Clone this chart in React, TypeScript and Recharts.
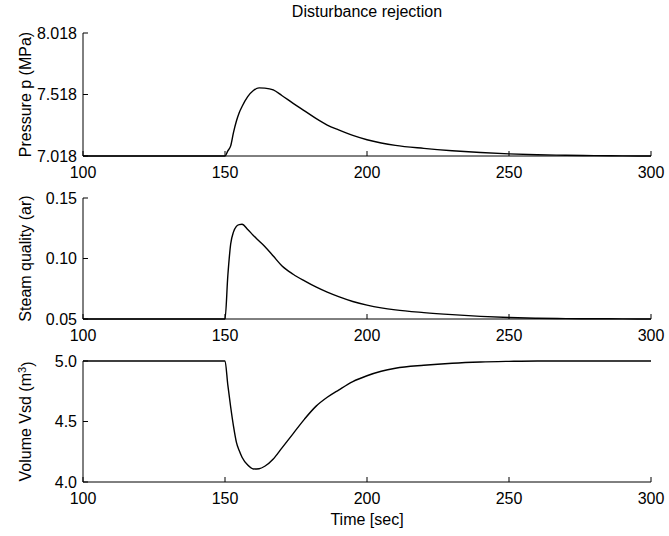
import React from 'react';
import { LineChart, Line, XAxis, YAxis, Label } from 'recharts';

// sampled response after the disturbance at t = 150 s
const time = [100, 150, 151, 152, 153, 154, 155, 156, 158, 160, 162, 164, 167, 170, 174, 178, 182, 186, 190, 195, 200, 205, 210, 220, 230, 240, 250, 260, 270, 280, 290, 300];
const pressure = [7.018, 7.018, 7.06, 7.1, 7.21, 7.3, 7.37, 7.42, 7.5, 7.55, 7.572, 7.57, 7.555, 7.51, 7.446, 7.385, 7.324, 7.27, 7.23, 7.185, 7.15, 7.124, 7.104, 7.08, 7.061, 7.046, 7.035, 7.028, 7.024, 7.021, 7.019, 7.018];
const quality = [0.05, 0.05, 0.086, 0.112, 0.122, 0.1265, 0.128, 0.1283, 0.124, 0.119, 0.1145, 0.11, 0.102, 0.094, 0.087, 0.0815, 0.0765, 0.0722, 0.0685, 0.0645, 0.0615, 0.0592, 0.0575, 0.0553, 0.0536, 0.0522, 0.0512, 0.0506, 0.0503, 0.0502, 0.0501, 0.05];
const volume = [5.0, 5.0, 4.8, 4.62, 4.46, 4.33, 4.26, 4.205, 4.14, 4.108, 4.11, 4.13, 4.19, 4.28, 4.4, 4.52, 4.625, 4.7, 4.76, 4.83, 4.878, 4.915, 4.94, 4.965, 4.982, 4.992, 4.997, 5.0, 5.0, 5.0, 5.0, 5.0];

const timeTicks = [100, 150, 200, 250, 300];
const pressureTicks = [7.018, 7.518, 8.018];
const qualityTicks = [0.05, 0.1, 0.15];
const volumeTicks = [4.0, 4.5, 5.0];

const data = time.map((t, i) => ({ t, p: pressure[i], q: quality[i], v: volume[i] }));

const FONT = '"Liberation Sans", Arial, sans-serif';
const tickStyle = { fill: '#000', fontSize: 16, fontFamily: FONT };
const axisLine = { stroke: '#000', strokeWidth: 1 };

function yLabel(text: string, sup?: string) {
  return (props: any) => {
    const vb = props.viewBox;
    const cx = vb.x + 25;
    const cy = vb.y + vb.height / 2;
    return (
      <text
        x={cx}
        y={cy}
        transform={`rotate(-90, ${cx}, ${cy})`}
        textAnchor="middle"
        dy="0.355em"
        fill="#000"
        fontSize={16}
        fontFamily={FONT}
      >
        {text}
        {sup && (
          <>
            <tspan dy="-0.45em" fontSize={11}>{sup}</tspan>
            <tspan dy="0.45em">)</tspan>
          </>
        )}
      </text>
    );
  };
}

interface PanelProps {
  top: number;
  height: number;
  bottom: number;
  dataKey: string;
  ticks: number[];
  digits: number;
  label: (props: any) => React.ReactElement;
  xTitle?: string;
}

function Panel({ top, height, bottom, dataKey, ticks, digits, label, xTitle }: PanelProps) {
  const domain = [ticks[0], ticks[ticks.length - 1]];
  return (
    <div style={{ position: 'absolute', left: 0, top }}>
      <LineChart width={669} height={height} data={data} margin={{ top: 33, right: 18, bottom, left: 0 }}>
        <XAxis
          dataKey="t"
          type="number"
          domain={[100, 300]}
          ticks={timeTicks}
          height={30}
          axisLine={axisLine}
          tickLine={{ stroke: '#000' }}
          tickSize={-5}
          tickMargin={16}
          tick={tickStyle}
        >
          {xTitle && (
            <Label value={xTitle} position="bottom" offset={2} fill="#000" fontSize={16} fontFamily={FONT} />
          )}
        </XAxis>
        <XAxis
          xAxisId="top"
          orientation="top"
          type="number"
          domain={[100, 300]}
          ticks={timeTicks}
          height={0}
          axisLine={axisLine}
          tickLine={{ stroke: '#000' }}
          tickSize={-5}
          tick={false}
        />
        <YAxis
          type="number"
          domain={domain}
          ticks={ticks}
          width={83}
          axisLine={axisLine}
          tickLine={{ stroke: '#000' }}
          tickSize={-5}
          tickMargin={11}
          tick={tickStyle}
          tickFormatter={(v: number) => v.toFixed(digits)}
        >
          <Label content={label} />
        </YAxis>
        <YAxis
          yAxisId="right"
          orientation="right"
          type="number"
          domain={domain}
          ticks={ticks}
          width={0}
          axisLine={axisLine}
          tickLine={{ stroke: '#000' }}
          tickSize={-5}
          tick={false}
        />
        <Line
          type="monotone"
          dataKey={dataKey}
          stroke="#000"
          strokeWidth={1.4}
          dot={false}
          isAnimationActive={false}
        />
      </LineChart>
    </div>
  );
}

export default function App() {
  return (
    <div style={{ position: 'absolute', left: 0, top: 0, width: 669, height: 536, background: '#fff', fontFamily: FONT }}>
      <div style={{ position: 'absolute', left: 83, top: 3, width: 568, textAlign: 'center', fontSize: 16, color: '#000' }}>
        Disturbance rejection
      </div>
      <Panel top={0} height={190} bottom={4} dataKey="p" ticks={pressureTicks} digits={3} label={yLabel('Pressure p (MPa)')} />
      <Panel top={165} height={190} bottom={6} dataKey="q" ticks={qualityTicks} digits={2} label={yLabel('Steam quality (ar)')} />
      <Panel top={328} height={208} bottom={24} dataKey="v" ticks={volumeTicks} digits={1} label={yLabel('Volume Vsd (m', '3')} xTitle="Time [sec]" />
    </div>
  );
}
